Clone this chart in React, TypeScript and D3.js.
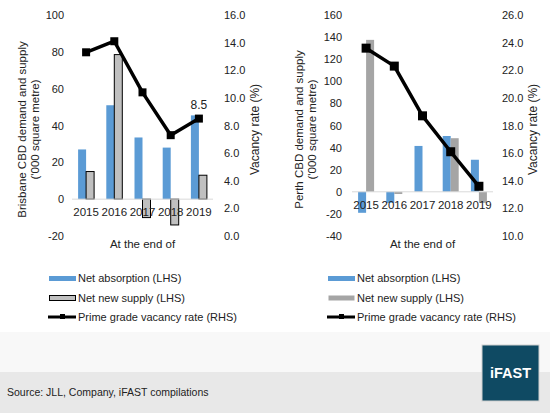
import React from "react";
import * as d3 from "d3";

const years = ["2015", "2016", "2017", "2018", "2019"];
const brisbaneAbsorption = [27, 51, 33.5, 28, 45.5];
const brisbaneSupply = [15, 78.5, -10, -14, 13];
const brisbaneVacancy = [13.3, 14.1, 10.4, 7.3, 8.5];
const brisbaneLeftTicks = [-20, 0, 20, 40, 60, 80, 100];
const brisbaneRightTicks = [0, 2, 4, 6, 8, 10, 12, 14, 16];

const perthAbsorption = [-19, -10, 41.5, 50.5, 29];
const perthSupply = [137.5, -2, 0, 48.5, -10];
const perthVacancy = [23.6, 22.3, 18.7, 16.1, 13.6];
const perthLeftTicks = [-40, -20, 0, 20, 40, 60, 80, 100, 120, 140, 160];
const perthRightTicks = [10, 12, 14, 16, 18, 20, 22, 24, 26];

const legendLabels = ["Net absorption (LHS)", "Net new supply (LHS)", "Prime grade vacancy rate (RHS)"];
const FONT = "'Liberation Sans', Arial, sans-serif";

type PanelProps = {
  x0: number; x1: number;
  leftDomain: [number, number]; rightDomain: [number, number];
  leftTicks: number[]; rightTicks: number[];
  absorption: number[]; supply: number[]; vacancy: number[];
  titleLines: string[]; titleX: number;
  leftLabelX: number; rightLabelX: number; rightTitleX: number;
  supplyFill: string; supplyStroke: string | null;
  lastLabel?: string; marker: number;
  legendX: number;
};

function Panel(p: PanelProps) {
  const top = 15, bottom = 236;
  const x = d3.scaleBand<string>().domain(years).range([p.x0, p.x1]);
  const inner = d3.scaleBand<string>().domain(["a", "s"]).range([-8, 8]);
  const yL = d3.scaleLinear().domain(p.leftDomain).range([bottom, top]);
  const yR = d3.scaleLinear().domain(p.rightDomain).range([bottom, top]);
  const cx = (y: string) => (x(y) as number) + x.bandwidth() / 2;
  const line = d3.line<number>().x((_, i) => cx(years[i])).y((v) => yR(v));
  const zero = yL(0);
  const titleY = (top + bottom) / 2 + 4;
  const legendY = [278, 298, 317];
  return (
    <g fontFamily={FONT}>
      {p.leftTicks.map((t) => (
        <text key={"l" + t} x={p.leftLabelX} y={yL(t) + 4} fontSize={11} textAnchor="end" fill="#222">{t}</text>
      ))}
      {p.rightTicks.map((t) => (
        <text key={"r" + t} x={p.rightLabelX} y={yR(t) + 4} fontSize={11} textAnchor="start" fill="#222">{t.toFixed(1)}</text>
      ))}
      {p.titleLines.map((s, i) => (
        <text key={s} transform={`translate(${p.titleX + i * 13},${titleY}) rotate(-90)`} fontSize={11.5} textAnchor="middle" fill="#222">{s}</text>
      ))}
      <text transform={`translate(${p.rightTitleX},${titleY}) rotate(-90)`} fontSize={12} textAnchor="middle" fill="#222">Vacancy rate (%)</text>
      {years.map((yr, i) => {
        const a = p.absorption[i];
        return (
          <rect key={"a" + yr} x={cx(yr) + (inner("a") as number)} width={inner.bandwidth()}
            y={Math.min(yL(a), zero)} height={Math.abs(yL(a) - zero)} fill="#5b9bd5" />
        );
      })}
      {years.map((yr, i) => {
        const s = p.supply[i];
        return (
          <rect key={"s" + yr} x={cx(yr) + (inner("s") as number)} width={inner.bandwidth()}
            y={Math.min(yL(s), zero)} height={Math.abs(yL(s) - zero)} fill={p.supplyFill}
            stroke={p.supplyStroke ?? "none"} strokeWidth={1} />
        );
      })}
      <line x1={p.x0} x2={p.x1} y1={zero} y2={zero} stroke="#d9d9d9" strokeWidth={1} />
      {years.map((yr) => (
        <text key={"x" + yr} x={cx(yr)} y={zero + 17} fontSize={11.5} textAnchor="middle" fill="#222">{yr}</text>
      ))}
      <text x={(p.x0 + p.x1) / 2} y={248} fontSize={11.5} textAnchor="middle" fill="#222">At the end of</text>
      <path d={line(p.vacancy) ?? ""} fill="none" stroke="#000" strokeWidth={3.5} strokeLinejoin="round" />
      {p.vacancy.map((v, i) => (
        <rect key={"m" + i} x={cx(years[i]) - p.marker / 2} y={yR(v) - p.marker / 2} width={p.marker} height={p.marker} fill="#000" />
      ))}
      {p.lastLabel && (
        <text x={cx(years[4])} y={yR(p.vacancy[4]) - 10} fontSize={12} textAnchor="middle" fill="#222">{p.lastLabel}</text>
      )}
      {/* legend */}
      <rect x={p.legendX} y={legendY[0] - 2} width={27} height={5} fill="#5b9bd5" />
      <rect x={p.legendX + 0.5} y={legendY[1] - 2.5} width={26} height={5} fill={p.supplyFill}
        stroke={p.supplyStroke ?? "none"} strokeWidth={1} />
      <line x1={p.legendX - 1} x2={p.legendX + 27} y1={legendY[2]} y2={legendY[2]} stroke="#000" strokeWidth={3} />
      <rect x={p.legendX + 11} y={legendY[2] - 3} width={5} height={5} fill="#000" />
      {legendLabels.map((s, i) => (
        <text key={s} x={p.legendX + 29} y={legendY[i] + 4} fontSize={11} fill="#222">{s}</text>
      ))}
    </g>
  );
}

export default function App() {
  return (
    <svg width={550} height={413} style={{ position: "absolute", left: 0, top: 0, background: "#fff" }}>
      <rect x={0} y={0} width={550} height={413} fill="#fff" />
      <rect x={0} y={332} width={550} height={40} fill="#f8f8f8" />
      <rect x={0} y={372} width={550} height={41} fill="#e8e8e8" />
      <Panel x0={72} x1={213} leftDomain={[-20, 100]} rightDomain={[0, 16]}
        leftTicks={brisbaneLeftTicks} rightTicks={brisbaneRightTicks}
        absorption={brisbaneAbsorption} supply={brisbaneSupply} vacancy={brisbaneVacancy}
        titleLines={["Brisbane CBD  demand and supply", "('000 square metre)"]} titleX={26}
        leftLabelX={64} rightLabelX={224} rightTitleX={259}
        supplyFill="#c0c0c0" supplyStroke="#000" lastLabel="8.5" marker={8} legendX={49} />
      <Panel x0={352} x1={493} leftDomain={[-40, 160]} rightDomain={[10, 26]}
        leftTicks={perthLeftTicks} rightTicks={perthRightTicks}
        absorption={perthAbsorption} supply={perthSupply} vacancy={perthVacancy}
        titleLines={["Perth CBD  demand and supply", "('000 square metre)"]} titleX={303}
        leftLabelX={342} rightLabelX={502} rightTitleX={537}
        supplyFill="#a5a5a5" supplyStroke={null} marker={9} legendX={328} />
      <text x={7} y={396} fontSize={10.5} fontFamily={FONT} fill="#222">Source: JLL, Company, iFAST compilations</text>
      <rect x={482} y={345} width={57} height={56} fill="#0f4a63" stroke="#d0d0d0" strokeWidth={1} />
      <text x={510.5} y={378} fontSize={14.5} fontWeight="bold" fontFamily={FONT} fill="#fff" textAnchor="middle">iFAST</text>
    </svg>
  );
}
